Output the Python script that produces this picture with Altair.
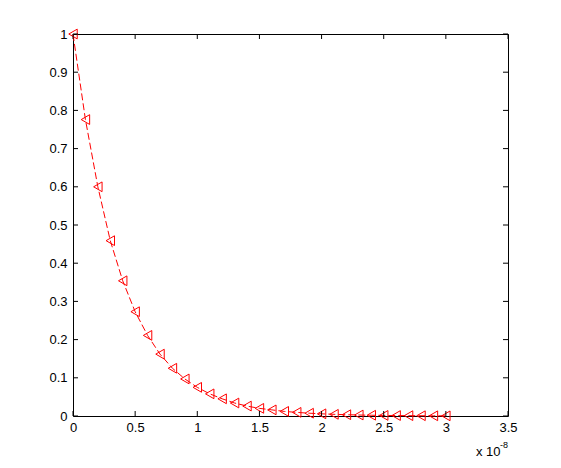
import altair as alt
import pandas as pd

# x in units of 1e-8
x_vals = [0.0, 0.1, 0.2, 0.3, 0.4, 0.5, 0.6, 0.7, 0.8, 0.9, 1.0,
          1.1, 1.2, 1.3, 1.4, 1.5, 1.6, 1.7, 1.8, 1.9, 2.0,
          2.1, 2.2, 2.3, 2.4, 2.5, 2.6, 2.7, 2.8, 2.9, 3.0]
y_vals = [1.0, 0.776, 0.600, 0.459, 0.354, 0.273, 0.211, 0.162, 0.125, 0.097, 0.075,
          0.058, 0.045, 0.034, 0.026, 0.020, 0.016, 0.012, 0.0095, 0.0073, 0.0057,
          0.0044, 0.0034, 0.0026, 0.0020, 0.0015, 0.0012, 0.0009, 0.0007, 0.0005, 0.0004]
x_ticks = [0, 0.5, 1, 1.5, 2, 2.5, 3, 3.5]
y_ticks = [0, 0.1, 0.2, 0.3, 0.4, 0.5, 0.6, 0.7, 0.8, 0.9, 1.0]

W, H = 435, 382
FONT = "Liberation Sans"

df = pd.DataFrame({"x": x_vals, "y": y_vals})
dfx = pd.DataFrame({"t": x_ticks})
dfy = pd.DataFrame({"t": y_ticks})

xs = alt.Scale(domain=[0, 3.5], nice=False, zero=False)
ys = alt.Scale(domain=[0, 1], nice=False, zero=False)

xaxis = alt.Axis(values=x_ticks, ticks=False, domain=False, grid=False,
                 labelFont=FONT, labelFontSize=13, labelColor="black",
                 labelPadding=5, title=None, labelOverlap=False, labelFlush=False,
                 labelExpr="toString(datum.value)")
yaxis = alt.Axis(values=y_ticks, ticks=False, domain=False, grid=False,
                 labelFont=FONT, labelFontSize=13, labelColor="black",
                 labelPadding=6, title=None, labelOverlap=False, labelFlush=False,
                 labelExpr="toString(datum.value)")

line = alt.Chart(df).mark_line(color="#ff0000", strokeDash=[7, 3], strokeWidth=1).encode(
    x=alt.X("x:Q", scale=xs, axis=xaxis),
    y=alt.Y("y:Q", scale=ys, axis=yaxis),
)
pts = alt.Chart(df).mark_point(shape="triangle-left", filled=False, color="#ff0000",
                               size=95, strokeWidth=1, opacity=1).encode(
    x=alt.X("x:Q", scale=xs, axis=xaxis),
    y=alt.Y("y:Q", scale=ys, axis=yaxis),
)

tb = alt.Chart(dfx).mark_rule(color="black", strokeWidth=1).encode(
    x=alt.X("t:Q", scale=xs, axis=xaxis), y=alt.value(H), y2=alt.value(H - 5))
tt = alt.Chart(dfx).mark_rule(color="black", strokeWidth=1).encode(
    x=alt.X("t:Q", scale=xs, axis=xaxis), y=alt.value(0), y2=alt.value(5))
tl = alt.Chart(dfy).mark_rule(color="black", strokeWidth=1).encode(
    y=alt.Y("t:Q", scale=ys, axis=yaxis), x=alt.value(0), x2=alt.value(5))
tr = alt.Chart(dfy).mark_rule(color="black", strokeWidth=1).encode(
    y=alt.Y("t:Q", scale=ys, axis=yaxis), x=alt.value(W), x2=alt.value(W - 5))

exp_base = alt.Chart(pd.DataFrame({"s": ["x 10"]})).mark_text(
    font=FONT, fontSize=13, align="left", baseline="alphabetic", color="black"
).encode(text="s:N", x=alt.value(403), y=alt.value(422))
exp_sup = alt.Chart(pd.DataFrame({"s": ["-8"]})).mark_text(
    font=FONT, fontSize=9, align="left", baseline="alphabetic", color="black"
).encode(text="s:N", x=alt.value(427), y=alt.value(414))

chart = alt.layer(line, pts, tb, tt, tl, tr, exp_base, exp_sup).properties(
    width=W, height=H,
    padding={"left": 65, "top": 26, "right": 45, "bottom": 44},
    autosize=alt.AutoSizeParams(type="none"),
).configure_view(stroke="black", strokeWidth=1)

chart.save("out.html", embed_options={"renderer": "svg", "actions": False})
